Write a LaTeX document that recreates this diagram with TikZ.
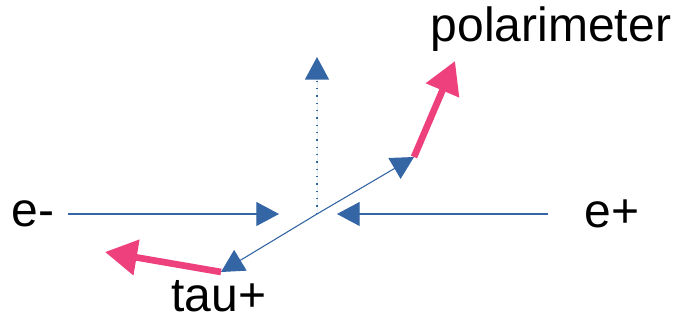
\documentclass[tikz,border=0pt]{standalone}
\usepackage{fontspec}
\setmainfont{Liberation Sans}
\usepackage{xcolor}
\usetikzlibrary{arrows.meta, positioning, calc}

\definecolor{beamblue}{RGB}{52,101,164}
\definecolor{spinpink}{RGB}{238,64,124}

\begin{document}
\begin{tikzpicture}[
    x=0.75pt, y=-0.75pt,
    lbl/.style={inner sep=0pt, font=\fontsize{36}{40}\selectfont},
    beam/.style={-{Triangle[length=17pt, width=18pt]}, draw=beamblue, fill=beamblue, line width=0.8pt},
    axis_dot/.style={-{Triangle[length=17pt, width=18pt]}, draw=beamblue, fill=beamblue, line width=1.2pt, dash pattern=on 1pt off 4.5pt},
    spin/.style={-{Triangle[length=24pt, width=26pt]}, draw=spinpink, fill=spinpink, line width=5pt}
]
    \useasboundingbox (0,0) rectangle (675,321);

    % Punkte: Wechselwirkungspunkt und Pfeilspitzen
    \coordinate (ip) at (317,214);
    \coordinate (lstart) at (68,214);
    \coordinate (lend) at (279,214);
    \coordinate (rstart) at (548,214);
    \coordinate (rend) at (337,214);
    \coordinate (ztop) at (317,57);
    \coordinate (tauminus) at (414,157);
    \coordinate (tauplus) at (221,272);
    \coordinate (poltip) at (455,61);
    \coordinate (spintip) at (105,252);

    % Beschriftungen
    \node[lbl] (eminus) at (33,214) {e-};
    \node[lbl] (eplus) at (612,214) {e+};
    \node[lbl] (polar) at (551,29) {polarimeter};
    \node[lbl] (tau) at (219,296) {tau+};

    % einlaufende Strahlen
    \draw[beam] (lstart) -- (lend);
    \draw[beam] (rstart) -- (rend);

    % Strahlachse (gepunktet)
    \draw[axis_dot] (ip) -- (ztop);

    % auslaufende Taus
    \draw[beam] (ip) -- (tauminus);
    \draw[beam] (ip) -- (tauplus);

    % Spinrichtungen
    \draw[spin] (tauminus) -- (poltip);
    \draw[spin] (tauplus) -- (spintip);
\end{tikzpicture}
\end{document}
